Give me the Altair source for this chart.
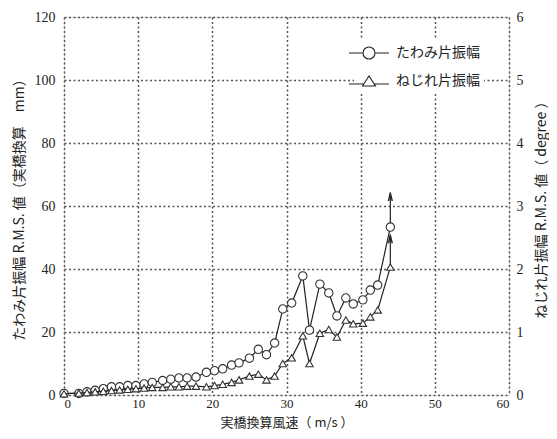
import altair as alt
import pandas as pd

# Wind speed (m/s, full-scale) and responses
speed = [0, 2, 3.1, 4.2, 5.3, 6.4, 7.5, 8.6, 9.7, 10.8, 11.9, 13.3, 14.4, 15.5, 16.6,
         17.8, 19.2, 20.3, 21.4, 22.6, 23.6, 25.0, 26.2, 27.3, 28.4, 29.5, 30.7, 32.2,
         33.1, 34.5, 35.7, 36.8, 38.0, 39.0, 40.3, 41.3, 42.3, 44.0]
bending_mm = [0.5, 0.5, 1.0, 1.5, 2.0, 2.6, 2.6, 3.0, 3.0, 3.5, 4.0, 4.6, 5.0, 5.4, 5.4,
              5.7, 7.2, 7.7, 8.3, 9.5, 10.2, 11.7, 14.5, 12.8, 16.5, 27.3, 29.2, 37.8,
              20.6, 35.2, 32.4, 25.1, 30.8, 28.9, 30.2, 33.3, 34.9, 53.3]
torsion_deg = [0.02, 0.03, 0.04, 0.05, 0.06, 0.07, 0.08, 0.09, 0.10, 0.11, 0.12, 0.12,
               0.13, 0.13, 0.14, 0.14, 0.13, 0.15, 0.17, 0.20, 0.24, 0.30, 0.33, 0.24,
               0.30, 0.50, 0.59, 0.94, 0.50, 0.98, 1.04, 0.92, 1.19, 1.13, 1.14, 1.24,
               1.35, 2.03]

# divergence arrows at the last measured speed
arrow_speed = [44.0]
bend_arrow_from = [53.3]
bend_arrow_to = [64.4]
tors_arrow_from = [2.03]
tors_arrow_to = [2.55]

series_names = ["たわみ片振幅", "ねじれ片振幅"]
x_ticks = [0, 10, 20, 30, 40, 50, 60]
left_ticks = [0, 20, 40, 60, 80, 100, 120]
right_ticks = [0, 1, 2, 3, 4, 5, 6]

df = pd.DataFrame({"speed": speed, "bend": bending_mm, "tors": torsion_deg})
bend_arrow = pd.DataFrame({"speed": arrow_speed, "y0": bend_arrow_from, "y1": bend_arrow_to})
tors_arrow = pd.DataFrame({"speed": arrow_speed, "y0": tors_arrow_from, "y1": tors_arrow_to})
legend_df = pd.DataFrame({"series": series_names})

W, H = 445, 378
NUM = "Liberation Serif"
JP = "Noto Sans CJK JP"
INK = "#222222"
GRID = dict(grid=True, gridDash=[2, 2.5], gridColor="#555555", gridWidth=1.5,
            gridOpacity=1)
CHEVRON = "M-0.5,1L0,-1L0.5,1"

xenc = alt.X("speed:Q", scale=alt.Scale(domain=[0, 60], nice=False),
             axis=alt.Axis(values=x_ticks, title="実橋換算風速（ m/s ）",
                           ticks=False, labelPadding=2, labelFont=NUM, labelFontSize=13,
                           titleFont=JP, titleFontSize=13, titleFontWeight="normal",
                           titleX=W / 2, titleY=27, titleBaseline="middle",
                           labelColor=INK, titleColor=INK, domain=False, **GRID))

yleft_scale = alt.Scale(domain=[0, 120], nice=False)
yleft_axis = alt.Axis(values=left_ticks, title="たわみ片振幅 R.M.S. 値（実橋換算　mm）",
                      ticks=False, labelPadding=9, labelFont=NUM,
                      labelFontSize=14, titleFont=JP, titleFontSize=14,
                      titleFontWeight="normal", titleAngle=270, titleX=-45, titleY=H / 2,
                      titleAlign="center", titleBaseline="middle",
                      labelColor=INK, titleColor=INK, domain=False, **GRID)
yright_scale = alt.Scale(domain=[0, 6], nice=False)
yright_axis = alt.Axis(values=right_ticks, orient="right", format="d",
                       title="ねじれ片振幅 R.M.S. 値（ degree ）", grid=False, ticks=False,
                       labelPadding=7, labelFont=NUM, labelFontSize=14, titleFont=JP,
                       titleFontSize=14, titleFontWeight="normal", titleAngle=270,
                       titleX=32, titleY=H / 2, titleAlign="center",
                       titleBaseline="middle", labelColor=INK, titleColor=INK,
                       domain=False)

base = alt.Chart(df)

bend_line = base.mark_line(color=INK, strokeWidth=1.2).encode(
    x=xenc, y=alt.Y("bend:Q", scale=yleft_scale, axis=yleft_axis))
bend_pts = base.mark_point(shape="circle", size=70, filled=True, fill="white",
                           stroke="#333333", strokeWidth=1.1, opacity=1).encode(
    x="speed:Q", y="bend:Q")
bend_rule = alt.Chart(bend_arrow).mark_rule(color=INK, strokeWidth=1.2).encode(
    x="speed:Q", y="y0:Q", y2="y1:Q")
bend_head = alt.Chart(bend_arrow).mark_point(shape=CHEVRON, size=60, filled=False,
                                             stroke=INK, strokeWidth=1.4, opacity=1).encode(
    x="speed:Q", y=alt.Y("y1:Q"), yOffset=alt.value(5))

legend_layer = alt.Chart(legend_df).transform_filter("false").mark_point(
    filled=False, color=INK, strokeWidth=1.1, size=400, opacity=1).encode(
    shape=alt.Shape("series:N",
                    scale=alt.Scale(domain=series_names, range=[
                        "M-2,0H-0.6M0.6,0H2M-0.6,0A0.6,0.6 0 1,1 0.6,0A0.6,0.6 0 1,1 -0.6,0Z",
                        "M-2,0.3H-0.52M0.52,0.3H2M-0.65,0.5L0,-0.5L0.65,0.5Z"]),
                    legend=alt.Legend(title=None, orient="none", legendX=290, legendY=21,
                                      symbolSize=400, symbolStrokeColor=INK,
                                      symbolStrokeWidth=1.1, labelFont=JP,
                                      labelFontSize=14, labelColor=INK, labelOffset=16,
                                      rowPadding=8, fillColor="white", padding=4,
                                      labelLimit=0)))

left = alt.layer(bend_line, bend_rule, bend_pts, bend_head, legend_layer)

tors_line = base.mark_line(color=INK, strokeWidth=1.2).encode(
    x="speed:Q", y=alt.Y("tors:Q", scale=yright_scale, axis=yright_axis))
tors_pts = base.mark_point(shape="triangle-up", size=55, filled=True, fill="white",
                           stroke="#333333", strokeWidth=1.1, opacity=1).encode(
    x="speed:Q", y="tors:Q")
tors_rule = alt.Chart(tors_arrow).mark_rule(color=INK, strokeWidth=1.2).encode(
    x="speed:Q", y="y0:Q", y2="y1:Q")
tors_head = alt.Chart(tors_arrow).mark_point(shape=CHEVRON, size=60, filled=False,
                                             stroke=INK, strokeWidth=1.4, opacity=1).encode(
    x="speed:Q", y="y1:Q", yOffset=alt.value(5))

right = alt.layer(tors_line, tors_rule, tors_pts, tors_head)

chart = alt.layer(left, right).resolve_scale(y="independent").properties(
    width=W, height=H,
    autosize=alt.AutoSizeParams(type="none"),
    padding={"left": 56, "top": 9, "right": 40, "bottom": 36},
).configure_view(stroke=INK, strokeWidth=1.5).configure(background="white")

chart.save("out.html", embed_options={"renderer": "svg", "actions": False})
